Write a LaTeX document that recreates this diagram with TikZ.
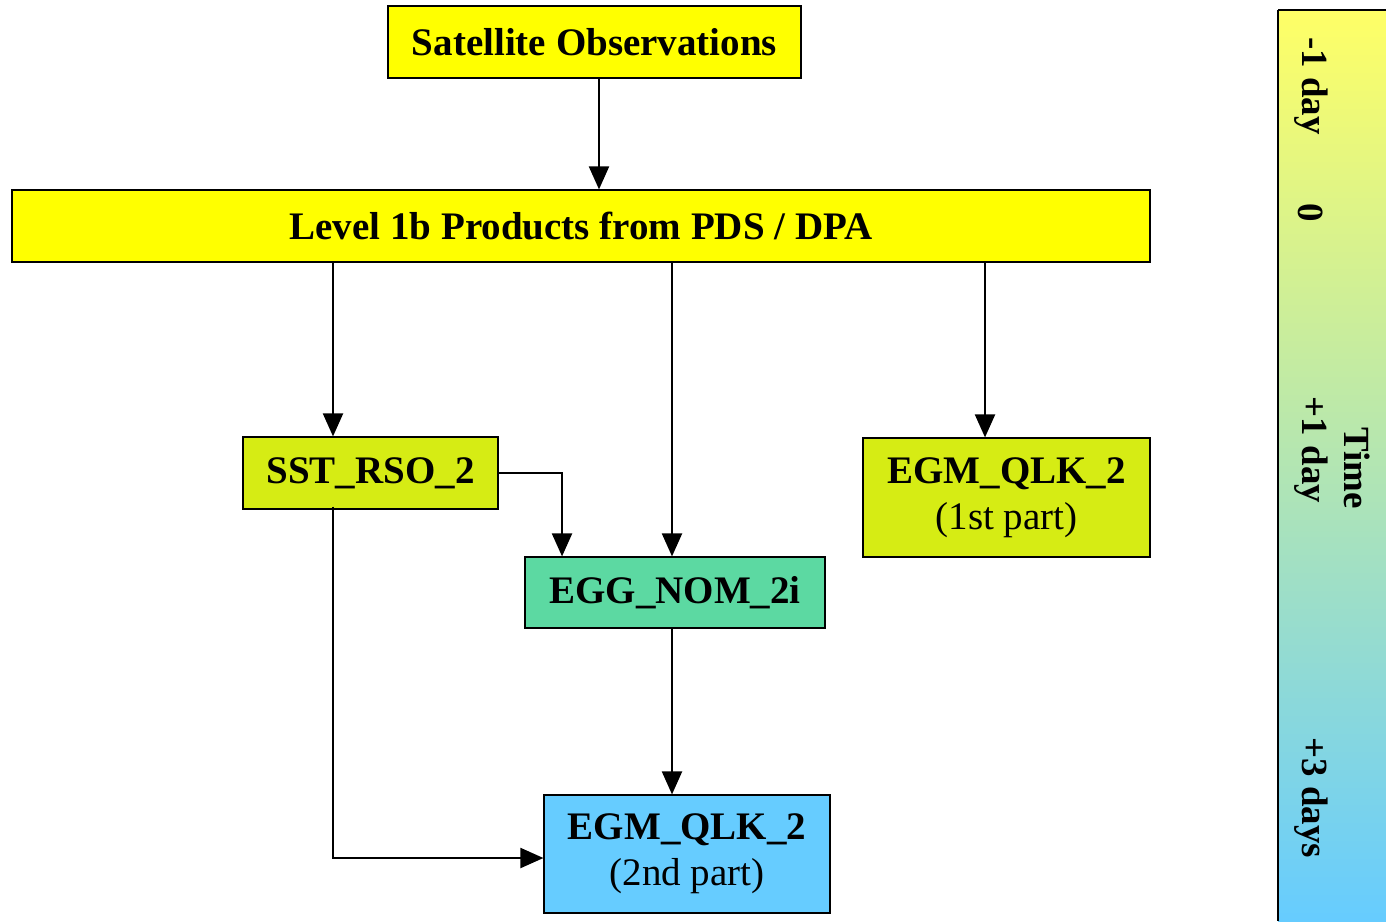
\documentclass[tikz,border=0pt]{standalone}
\usepackage{fontspec}
\setmainfont{Liberation Serif}
\usetikzlibrary{arrows.meta,positioning,calc}

\definecolor{obsyellow}{HTML}{FFFF00}
\definecolor{lvltwo}{HTML}{D6EC14}
\definecolor{nomgreen}{HTML}{5CD9A2}
\definecolor{qlkblue}{HTML}{66CCFF}
\definecolor{timetop}{HTML}{FFFF66}

\begin{document}
\begin{tikzpicture}
[x=0.02cm,y=-0.02cm,>={Triangle[length=0.46cm,width=0.4cm]},
 box/.style={draw=black,line width=0.7pt,align=center,inner sep=0pt,
   font=\fontsize{22.2}{26}\selectfont\bfseries},
 link/.style={->,line width=1.2pt},
 tick/.style={rotate=-90,font=\fontsize{21}{24}\selectfont\bfseries}]

  \useasboundingbox (0,0) rectangle (1386,921);

  % time bar
  \shade [top color=timetop,bottom color=qlkblue] (1278,10) rectangle (1386,921);
  \draw [line width=0.6pt] (1386,10) -- (1278,10);
  \draw [line width=1.2pt] (1278,10) -- (1278,921);
  \node (tminus) [tick] at (1311,86) {-1 day};
  \node (tzero) [tick] at (1311,213) {0};
  \node (tone) [tick] at (1311,450) {+1 day};
  \node (tthree) [tick] at (1311,798) {+3 days};
  \node (ttime) [tick] at (1357,468) {Time};

  % products
  \node (sat) [box,fill=obsyellow,minimum width=8.26cm,minimum height=1.44cm] at (594.5,42) {Satellite Observations};
  \node (level1b) [box,fill=obsyellow,minimum width=22.76cm,minimum height=1.44cm] at (581,226) {Level 1b Products from PDS / DPA};
  \node (sst) [box,fill=lvltwo,minimum width=5.1cm,minimum height=1.44cm] at (370.5,473) {SST\_RSO\_2};
  \node (egmone) [box,fill=lvltwo,minimum width=5.74cm,minimum height=2.38cm] at (1006.5,497.5) {EGM\_QLK\_2\\{\mdseries (1st part)}};
  \node (egg) [box,fill=nomgreen,minimum width=6cm,minimum height=1.42cm] at (675,592.5) {EGG\_NOM\_2i};
  \node (egmtwo) [box,fill=qlkblue,minimum width=5.72cm,minimum height=2.36cm] at (687,854) {EGM\_QLK\_2\\{\mdseries (2nd part)}};

  % flow
  \draw [link] ([xshift=0.09cm]sat.south) -- ([xshift=0.09cm]sat.south |- level1b.north);
  \draw [link] ([xshift=-0.75cm]sst.north |- level1b.south) -- ([xshift=-0.75cm]sst.north);
  \draw [link] ([xshift=-0.06cm]egg.north |- level1b.south) -- ([xshift=-0.06cm]egg.north);
  \draw [link] ([xshift=-0.43cm]egmone.north |- level1b.south) -- ([xshift=-0.43cm]egmone.north);
  \draw [link] (sst.east) -| ([xshift=-2.26cm]egg.north);
  \draw [link] ([xshift=-0.06cm]egg.south) -- ([xshift=-0.06cm]egg.south |- egmtwo.north);
  \draw [link] ([xshift=-0.75cm,yshift=0.06cm]sst.south) |- ([yshift=-0.08cm]egmtwo.west);

\end{tikzpicture}
\end{document}
